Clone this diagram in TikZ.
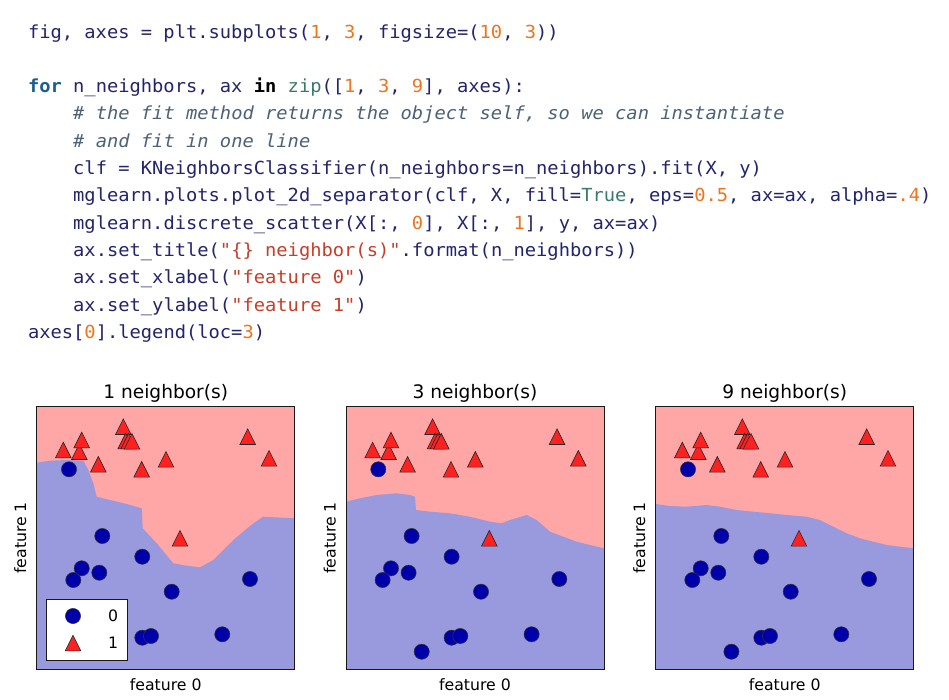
\documentclass[tikz,border=0pt]{standalone}
\usepackage{fontspec}
\setmainfont{DejaVu Sans}
\newfontfamily\codefont[FakeStretch=1.042]{DejaVu Sans Mono}
\newfontfamily\plotfont{DejaVu Sans}
\definecolor{cnavy}{HTML}{24246C}
\definecolor{ckwc}{HTML}{1B5E8C}
\definecolor{cbic}{HTML}{3A7A6C}
\definecolor{cnumc}{HTML}{EE7420}
\definecolor{cstrc}{HTML}{C73E28}
\definecolor{ccmc}{HTML}{4C6276}
\definecolor{bluebg}{HTML}{9999DD}
\definecolor{redbg}{HTML}{FFA6A6}
\definecolor{bluept}{HTML}{0000AA}
\definecolor{redpt}{HTML}{FF2020}
\newcommand\ckw[1]{\textcolor{ckwc}{\bfseries #1}}
\newcommand\ckwin[1]{\textcolor{black}{\bfseries #1}}
\newcommand\cbi[1]{\textcolor{cbic}{#1}}
\newcommand\cnumv[1]{\textcolor{cnumc}{#1}}
\newcommand\cstr[1]{\textcolor{cstrc}{#1}}
\newcommand\ccm[1]{\textcolor{ccmc}{\itshape #1}}
\tikzset{
  codeline/.style={anchor=base west, inner sep=0pt, outer sep=0pt, text=cnavy,
    font=\codefont\fontsize{18}{20}\selectfont},
  ptitle/.style={anchor=base, inner sep=0pt, font=\plotfont\fontsize{18.6}{20}\selectfont},
  plabel/.style={anchor=base, inner sep=0pt, font=\plotfont\fontsize{15.7}{18}\selectfont},
  bmark/.style={fill=bluept, draw=black!80, line width=0.5pt},
  rmark/.style={fill=redpt, draw=black!85, line width=0.6pt},
  frame/.style={draw=black!90, line width=1pt},
}
\newcommand\bdot[2]{\filldraw[bmark] (#1,#2) circle[radius=7.6pt];}
\newcommand\rtri[2]{\filldraw[rmark] (#1,#2) ++(0,-7.8) -- ++(7.8,15.6) -- ++(-15.6,0) -- cycle;}
\newcommand\plotpoints{%
  \foreach \px/\py in {32.3/62.6, 65.6/129.3, 105.6/150, 45/161.6, 62.6/166, 36.6/173.3,
      135/185, 213.3/172.3, 105.6/231, 114.3/229.3, 185.6/227.6, 75.7/245}{\bdot{\px}{\py}}
  \foreach \px/\py in {26.6/43.3, 42.6/45, 45/33.3, 86.6/20, 89/34.3, 92/34.3, 95.3/34.6,
      61.6/57.6, 105/62.6, 129.3/52.6, 211/30, 232.3/51.6, 143.3/131.6}{\rtri{\px}{\py}}
}
\begin{document}
\begin{tikzpicture}[x=1pt,y=-1pt]
\useasboundingbox[fill=white] (0,0) rectangle (949,699);

% ---------------- code ----------------
\node[codeline] (l0) at (28,38) {fig, axes = plt.subplots(\cnumv{1}, \cnumv{3}, figsize=(\cnumv{10}, \cnumv{3}))};
\node[codeline] (l2) at (28,92.6) {\ckw{for} n\_neighbors, ax \ckwin{in} \cbi{zip}([\cnumv{1}, \cnumv{3}, \cnumv{9}], axes):};
\node[codeline] (l3) at (73.2,119.9) {\ccm{\# the fit method returns the object self, so we can instantiate}};
\node[codeline] (l4) at (73.2,147.2) {\ccm{\# and fit in one line}};
\node[codeline] (l5) at (73.2,174.5) {clf = KNeighborsClassifier(n\_neighbors=n\_neighbors).fit(X, y)};
\node[codeline] (l6) at (73.2,201.8) {mglearn.plots.plot\_2d\_separator(clf, X, fill=\cbi{True}, eps=\cnumv{0.5}, ax=ax, alpha=\cnumv{.4})};
\node[codeline] (l7) at (73.2,229.1) {mglearn.discrete\_scatter(X[:, \cnumv{0}], X[:, \cnumv{1}], y, ax=ax)};
\node[codeline] (l8) at (73.2,256.4) {ax.set\_title(\cstr{"\{\} neighbor(s)"}.format(n\_neighbors))};
\node[codeline] (l9) at (73.2,283.7) {ax.set\_xlabel(\cstr{"feature 0"})};
\node[codeline] (l10) at (73.2,311.0) {ax.set\_ylabel(\cstr{"feature 1"})};
\node[codeline] (l11) at (28,338.3) {axes[\cnumv{0}].legend(loc=\cnumv{3})};

% ---------------- panel 1 ----------------
\begin{scope}[shift={(36.7,406.7)}]
  \fill[redbg] (0,0) rectangle (258,262.5);
  \fill[bluebg] (0,262.5) -- (0,56) -- (13.3,54) -- (30,53.3) -- (46.6,54) -- (51.6,63.3)
     -- (56.6,76.6) -- (60,90) -- (73.3,93.3) -- (90,97.3) -- (105,101.6) -- (106,121.6)
     -- (120,136.6) -- (136.6,156.6) -- (150,159) -- (163.3,160.6) -- (176.6,153.3)
     -- (196.6,133.3) -- (216.6,116.6) -- (226.6,110) -- (258,111.6) -- (258,262.5) -- cycle;
  \plotpoints
  % legend
  \filldraw[fill=white, draw=black!90, line width=0.8pt] (9.3,192.3) rectangle (90.3,253.3);
  \bdot{36.3}{209.3}
  \rtri{36.3}{236.3}
  \node[plabel, anchor=center] (leg0) at (76.3,209.3) {0};
  \node[plabel, anchor=center] (leg1) at (76.3,236.3) {1};
  \draw[frame] (0,0) rectangle (258,262.5);
  \node[ptitle] (t1) at (129,-8.2) {1 neighbor(s)};
  \node[plabel] (x1) at (129,283.3) {feature 0};
  \node[plabel, rotate=90] (y1) at (-10.5,131.25) {feature 1};
\end{scope}

% ---------------- panel 2 ----------------
\begin{scope}[shift={(346,406.7)}]
  \fill[redbg] (0,0) rectangle (258,262.5);
  \fill[bluebg] (0,262.5) -- (0,95) -- (14,91.6) -- (30.7,88.3) -- (50.7,86.6) -- (64,88.3)
     -- (69,90) -- (70,103.3) -- (84,105) -- (104,106.6) -- (124,110) -- (144,115)
     -- (155.7,116.6) -- (164,113.3) -- (180.7,108.3) -- (190.7,113.3) -- (204,125)
     -- (217.3,130) -- (230.7,135) -- (244,138.3) -- (258,141.6) -- (258,262.5) -- cycle;
  \plotpoints
  \draw[frame] (0,0) rectangle (258,262.5);
  \node[ptitle] (t2) at (129,-8.2) {3 neighbor(s)};
  \node[plabel] (x2) at (129,283.3) {feature 0};
  \node[plabel, rotate=90] (y2) at (-10.5,131.25) {feature 1};
\end{scope}

% ---------------- panel 3 ----------------
\begin{scope}[shift={(655.7,406.7)}]
  \fill[redbg] (0,0) rectangle (258,262.5);
  \fill[bluebg] (0,262.5) -- (0,97.3) -- (14.3,99.3) -- (31,100) -- (51,98.3) -- (64.3,100)
     -- (81,103.3) -- (97.6,105) -- (114.3,106.6) -- (131,108.3) -- (151,110)
     -- (164.3,113.3) -- (177.6,120) -- (191,126.6) -- (204.3,131.6) -- (217.6,135)
     -- (231,138.3) -- (244.3,140) -- (258,141.6) -- (258,262.5) -- cycle;
  \plotpoints
  \draw[frame] (0,0) rectangle (258,262.5);
  \node[ptitle] (t3) at (129,-8.2) {9 neighbor(s)};
  \node[plabel] (x3) at (129,283.3) {feature 0};
  \node[plabel, rotate=90] (y3) at (-10.5,131.25) {feature 1};
\end{scope}
\end{tikzpicture}
\end{document}
